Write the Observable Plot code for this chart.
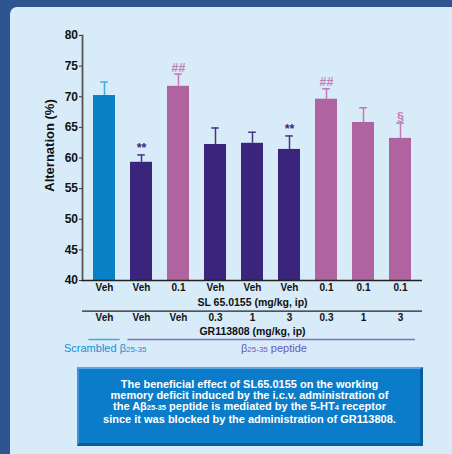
<!DOCTYPE html>
<html>
<head>
<meta charset="utf-8">
<script src="https://cdn.jsdelivr.net/npm/d3@7"></script>
<script src="https://cdn.jsdelivr.net/npm/@observablehq/plot@0.6"></script>
<style>
  html, body { margin: 0; padding: 0; }
  body { width: 452px; height: 454px; overflow: hidden; background: #2f5591; font-family: "Liberation Sans", Arial, sans-serif; }
  #wrap { position: relative; width: 452px; height: 454px; }
  #panel { position: absolute; left: 10px; top: 7px; width: 442px; height: 447px; background: #d7ebf9; border-top-left-radius: 7px; }
  #chart { position: absolute; left: 0; top: 0; }
  .grp { position: absolute; top: 343.4px; font-size: 11px; line-height: 11px; white-space: nowrap; }
  .grp small { font-size: 8px; }
  #scr { left: 64px; color: #1a8ed8; }
  #pep { left: 174px; width: 200px; text-align: center; color: #6a5cb6; }
  #box { position: absolute; left: 77px; top: 367px; width: 346px; height: 79px; box-sizing: border-box;
         background: #0b7cc9; border-top: 2px solid #5aa6e2; border-left: 2px solid #3d94da; border-right: 3px solid #0a5ca2; border-bottom: 3px solid #0a5ca2;
         color: #fff; font-weight: bold; font-size: 11px; line-height: 11.33px; text-align: center; padding-top: 9.8px; white-space: nowrap; }
  #box small { font-size: 7.5px; }
</style>
</head>
<body>
<div id="wrap">
  <div id="panel"></div>
  <div id="chart"></div>
  <div class="grp" id="scr">Scrambled β<small>25-35</small></div>
  <div class="grp" id="pep">β<small>25-35</small> peptide</div>
  <div id="box">The beneficial effect of SL65.0155 on the working<br>memory deficit induced by the i.c.v. administration of<br>the Aβ<small>25-35</small> peptide is mediated by the 5-HT<small>4</small> receptor<br>since it was blocked by the administration of GR113808.</div>
</div>
<script>
const slDose = ["Veh","Veh","0.1","Veh","Veh","Veh","0.1","0.1","0.1"];
const grDose = ["Veh","Veh","Veh","0.3","1","3","0.3","1","3"];
const alternation = [70.2, 59.3, 71.7, 62.2, 62.4, 61.4, 69.6, 65.8, 63.2];
const sem = [2.2, 1.2, 2.0, 2.7, 1.8, 2.2, 1.7, 2.4, 2.5];
const groups = ["scrambled","abeta","sl","abeta","abeta","abeta","sl","sl","sl"];
const signif = ["", "**", "##", "", "", "**", "##", "", "§"];
const yTicks = [40, 45, 50, 55, 60, 65, 70, 75, 80];
const slLabel = "SL 65.0155 (mg/kg, ip)";
const grLabel = "GR113808 (mg/kg, ip)";
const spans = [{g: "scrambled", from: 0, to: 0}, {g: "abeta", from: 1, to: 8}];

const barFill = {scrambled: "#0a80c6", abeta: "#3a247c", sl: "#b0649f"};
const errStroke = {scrambled: "#4aa8e0", abeta: "#45358a", sl: "#c07ab0"};
const sigFill = {scrambled: "#4aa8e0", abeta: "#3a2a80", sl: "#c47db4"};
const spanStroke = {scrambled: "#45a6e0", abeta: "#7d70bd"};

const rows = alternation.map((v, i) => ({i, v, e: v + sem[i], g: groups[i], s: signif[i], sl: slDose[i], gr: grDose[i]}));

const lbl = {frameAnchor: "bottom", lineAnchor: "middle", textAnchor: "middle", fontWeight: "bold", fill: "#111"};

const chart = Plot.plot({
  width: 452,
  height: 454,
  marginLeft: 82,
  marginRight: 30,
  marginTop: 35,
  marginBottom: 174,
  style: {fontFamily: "'Liberation Sans', Arial, sans-serif", background: "transparent", overflow: "visible", color: "#111"},
  x: {type: "band", domain: rows.map(d => d.i), paddingInner: 0.4, paddingOuter: 0.2, axis: null},
  y: {domain: [40, 80], axis: null},
  color: {type: "identity"},
  marks: [
    Plot.barY(rows, {x: "i", y1: 40, y2: "v", fill: d => barFill[d.g]}),
    Plot.ruleX(rows, {x: "i", y1: "v", y2: "e", stroke: d => errStroke[d.g], strokeWidth: 1.5}),
    Plot.tickY(rows, {x: "i", y: "e", stroke: d => errStroke[d.g], strokeWidth: 1.5, insetLeft: 7.2, insetRight: 7.2}),
    Plot.text(rows.filter(d => d.s), {x: "i", y: "e", text: "s", lineAnchor: "bottom", dy: -2.5, fill: d => sigFill[d.g], fontWeight: "bold", fontSize: 12.5}),
    Plot.axisY({ticks: yTicks, tickSize: 3, tickPadding: 1.5, fontWeight: "bold", fontSize: 12, label: null, stroke: "#333"}),
    Plot.frame({anchor: "left", stroke: "#555", strokeWidth: 1.8}),
    Plot.ruleY([40], {stroke: "#222", strokeWidth: 1.5}),
    Plot.text(["Alternation (%)"], {text: d => d, frameAnchor: "left", textAnchor: "middle", lineAnchor: "middle", dx: -33, dy: -12.5, rotate: -90, fontWeight: "bold", fontSize: 13, fill: "#111"}),
    Plot.text(rows, {...lbl, x: "i", text: "sl", dy: 7.7, fontSize: 10}),
    Plot.text([slLabel], {...lbl, text: d => d, dy: 21.7, fontSize: 10.5}),
    Plot.ruleY([40], {dy: 30.7, stroke: "#222", strokeWidth: 1.3}),
    Plot.text(rows, {...lbl, x: "i", text: "gr", dy: 37.7, fontSize: 10}),
    Plot.text([grLabel], {...lbl, text: d => d, dy: 50.7, fontSize: 10.5}),
    Plot.ruleY(spans.slice(0, 1), {y: () => 40, x1: "from", x2: "to", dy: 59, stroke: d => spanStroke[d.g], strokeWidth: 1.5, insetLeft: -4.6, insetRight: -4.7}),
    Plot.ruleY(spans.slice(1), {y: () => 40, x1: "from", x2: "to", dy: 59, stroke: d => spanStroke[d.g], strokeWidth: 1.5, insetLeft: -2.5, insetRight: -4})
  ]
});
document.getElementById("chart").appendChild(chart);
</script>
</body>
</html>
